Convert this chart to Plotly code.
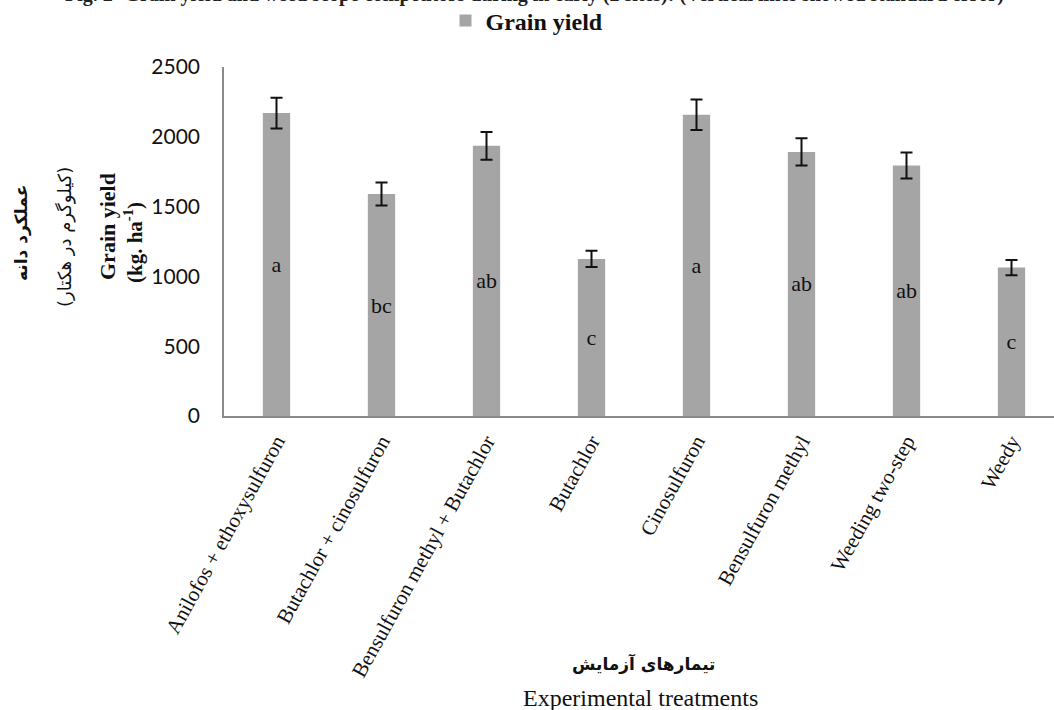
import plotly.graph_objects as go

# Treatments, mean grain yield (kg/ha), standard errors and mean-separation letters
treatments = [
    "Anilofos + ethoxysulfuron",
    "Butachlor + cinosulfuron",
    "Bensulfuron methyl + Butachlor",
    "Butachlor",
    "Cinosulfuron",
    "Bensulfuron methyl",
    "Weeding two-step",
    "Weedy",
]
grain_yield = [2170, 1590, 1935, 1125, 2158, 1892, 1795, 1063]
std_error = [110, 82, 100, 58, 110, 98, 93, 54]
letters = ["a", "bc", "ab", "c", "a", "ab", "ab", "c"]
y_ticks = [0, 500, 1000, 1500, 2000, 2500]

SERIF = "Liberation Serif, Times New Roman, serif"
SANS = "Lato, Calibri, sans-serif"
PERSIAN = "DejaVu Sans, Noto Sans, sans-serif"
AXIS_GREY = "#8a8a8a"
BAR_GREY = "#a5a5a5"

W, H = 1054, 710
L, R, T, B = 224, 0, 67, 294
plot_w = W - L - R
plot_h = H - T - B
cat_px = 105.0


def px_x(px):
    return (px - L) / plot_w


def px_y(py):
    return (H - B - py) / plot_h


fig = go.Figure()
fig.add_trace(go.Bar(
    x=list(range(len(treatments))),
    y=grain_yield,
    name="<b>Grain yield</b>",
    marker=dict(color=BAR_GREY, line=dict(width=0)),
    error_y=dict(type="data", array=std_error, visible=True,
                 color="#111111", thickness=2, width=6),
    text=letters,
    textposition="inside",
    insidetextanchor="middle",
    textangle=0,
    constraintext="none",
    insidetextfont=dict(family=SERIF, size=22, color="#111111"),
    cliponaxis=False,
))

fig.update_layout(
    width=W, height=H,
    margin=dict(l=L, r=R, t=T, b=B),
    paper_bgcolor="white", plot_bgcolor="white",
    bargap=0.74,
    showlegend=True,
    legend=dict(
        orientation="h", xref="container", yref="container",
        x=527 / W, y=1 - 21 / H, xanchor="center", yanchor="middle",
        font=dict(family=SERIF, size=24, color="#111111"),
        itemwidth=30,
    ),
    xaxis=dict(
        range=[-0.5, plot_w / cat_px - 0.5],
        tickmode="array",
        tickvals=list(range(len(treatments))),
        ticktext=treatments,
        tickangle=-61,
        tickfont=dict(family=SERIF, size=21, color="#111111"),
        showline=True, linecolor=AXIS_GREY, linewidth=1.5,
        showgrid=False, zeroline=False, ticks="",
        ticklabelstandoff=3,
    ),
    yaxis=dict(
        range=[0, 2500],
        tickmode="array", tickvals=y_ticks,
        tickfont=dict(family=SANS, size=21, color="#111111"),
        showline=True, linecolor=AXIS_GREY, linewidth=1.5,
        showgrid=False, zeroline=False, ticks="",
        ticklabelstandoff=18,
    ),
)

annotations = [
    # caption line running off the top edge
    dict(text="<b>Fig. 2- Grain yield and weed scope competitors during in early (2 sites): (Vertical lines showed standard error)</b>",
         x=px_x(534), y=px_y(-5), font=dict(family=SERIF, size=20, color="#222222")),
    # y-axis title lines
    dict(text="<b>عملکرد دانه</b>", x=px_x(21), y=px_y(233), textangle=-90,
         font=dict(family=PERSIAN, size=17, color="#111111")),
    dict(text="(کیلوگرم در هکتار)", x=px_x(65), y=px_y(237), textangle=-90,
         font=dict(family=PERSIAN, size=18, color="#111111")),
    dict(text="<b>Grain yield</b>", x=px_x(107), y=px_y(227), textangle=-90,
         font=dict(family=SERIF, size=22, color="#111111")),
    dict(text="<b>(kg. ha<sup>-1</sup>)</b>", x=px_x(133), y=px_y(243), textangle=-90,
         font=dict(family=SERIF, size=21, color="#111111")),
    # x-axis title lines
    dict(text="<b>تیمارهای آزمایش</b>", x=px_x(644), y=px_y(663),
         font=dict(family=PERSIAN, size=17, color="#111111")),
    dict(text="Experimental treatments", x=px_x(640), y=px_y(698),
         font=dict(family=SERIF, size=24, color="#111111")),
]
for a in annotations:
    a.update(xref="paper", yref="paper", showarrow=False,
             xanchor="center", yanchor="middle")
    fig.add_annotation(**a)

fig.write_html("out.html")
